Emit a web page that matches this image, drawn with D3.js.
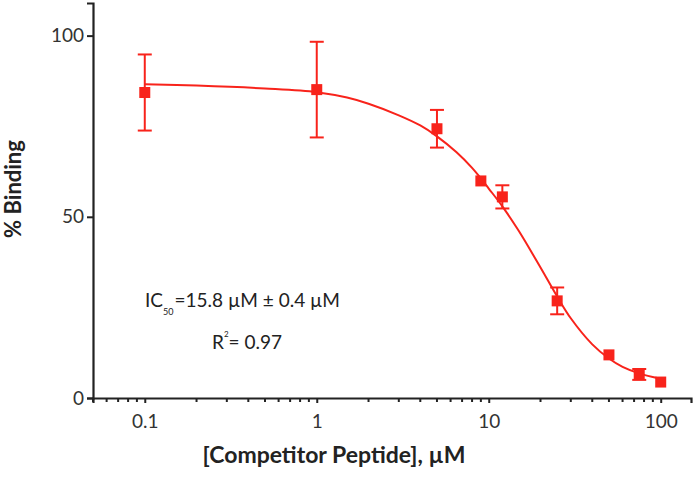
<!DOCTYPE html>
<html>
<head>
<meta charset="utf-8">
<script src="https://cdn.jsdelivr.net/npm/d3@7"></script>
<style>
    body { margin: 0; background: #fff; }
    text { font-family: Lato, 'Open Sans', sans-serif; }
</style>
</head>
<body>
<div id="chart"></div>
<script>
// measured points
const concentrations = [0.1, 1, 5, 9, 12, 25, 50, 75, 100]
const binding = [84.3, 85.1, 74.3, 59.9, 55.5, 26.8, 11.9, 6.5, 4.4]
const errors = [10.5, 13.2, 5.2, 0, 3.2, 3.7, 0, 1.5, 0]

// fitted curve
const fitX = [0.1, 0.2, 0.5, 1, 1.5, 2, 3, 4, 5, 6.5, 8, 9, 10, 12, 15, 20, 25, 30, 40, 50, 60, 75, 100]
const fitY = [86.6, 86.2, 85.4, 84.4, 82.9, 81.2, 78.0, 75.2, 72.2, 67.8, 63.5, 60.6, 57.8, 52.9, 46.0, 36.0, 28.0, 22.0, 14.8, 10.9, 8.6, 6.8, 5.3]

const xTicks = [0.1, 1, 10, 100]
const xMinorTicks = [0.05, 0.06, 0.07, 0.08, 0.09, 0.2, 0.3, 0.4, 0.5, 0.6, 0.7, 0.8, 0.9,
    2, 3, 4, 5, 6, 7, 8, 9, 20, 30, 40, 50, 60, 70, 80, 90]
const yTicks = [0, 50, 100]

const width = 693
const height = 478
const margin = { top: 3, right: 2, bottom: 80, left: 93 }
const red = '#f8231b'
const axisColor = '#222'

const svg = d3.select('#chart')
    .append('svg')
    .attr('width', width)
    .attr('height', height)

const x = d3.scaleLog()
    .domain([0.05, 150])
    .range([margin.left, width - margin.right])

const y = d3.scaleLinear()
    .domain([0, 109])
    .range([height - margin.bottom, margin.top])

// axes
const xAxis = svg.append('g')
    .attr('transform', `translate(0,${y(0)})`)
    .call(d3.axisBottom(x).tickValues(xTicks).tickFormat(d3.format('')).tickSize(5).tickPadding(12))
xAxis.selectAll('.minor')
    .data(xMinorTicks)
    .join('line')
    .attr('class', 'minor')
    .attr('x1', d => x(d))
    .attr('x2', d => x(d))
    .attr('y1', 0)
    .attr('y2', 4)

svg.append('g')
    .attr('transform', `translate(${x(0.05)},0)`)
    .call(d3.axisLeft(y).tickValues(yTicks).tickSize(6).tickPadding(3))

svg.selectAll('.domain, .tick line, .minor')
    .attr('stroke', axisColor)
    .attr('stroke-width', 2)
svg.selectAll('.domain').attr('stroke-width', 2.2)
svg.selectAll('.tick text')
    .attr('fill', '#333')
    .style('font-size', '19px')

// axis titles
svg.append('text')
    .attr('x', 334)
    .attr('y', 463)
    .attr('text-anchor', 'middle')
    .attr('font-weight', 'bold')
    .attr('fill', '#222')
    .style('font-size', '23px')
    .text('[Competitor Peptide], µM')

svg.append('text')
    .attr('transform', 'translate(21,189) rotate(-90)')
    .attr('text-anchor', 'middle')
    .attr('font-weight', 'bold')
    .attr('fill', '#222')
    .style('font-size', '22px')
    .text('% Binding')

// fitted line
const line = d3.line()
    .x((d, i) => x(fitX[i]))
    .y(d => y(d))
    .curve(d3.curveCatmullRom.alpha(0.5))

svg.append('path')
    .attr('d', line(fitY))
    .attr('fill', 'none')
    .attr('stroke', red)
    .attr('stroke-width', 2)

// error bars (only where they stick out of the marker)
const withErr = concentrations.map((c, i) => i).filter(i => errors[i] > 0)
const bars = svg.append('g')
    .attr('stroke', red)
    .attr('stroke-width', 2)
    .selectAll('g')
    .data(withErr)
    .join('g')
bars.append('line')
    .attr('x1', i => x(concentrations[i]))
    .attr('x2', i => x(concentrations[i]))
    .attr('y1', i => y(binding[i] + errors[i]))
    .attr('y2', i => y(binding[i] - errors[i]))
bars.append('line')
    .attr('x1', i => x(concentrations[i]) - 7)
    .attr('x2', i => x(concentrations[i]) + 7)
    .attr('y1', i => y(binding[i] + errors[i]))
    .attr('y2', i => y(binding[i] + errors[i]))
bars.append('line')
    .attr('x1', i => x(concentrations[i]) - 7)
    .attr('x2', i => x(concentrations[i]) + 7)
    .attr('y1', i => y(binding[i] - errors[i]))
    .attr('y2', i => y(binding[i] - errors[i]))

// markers
svg.append('g')
    .selectAll('rect')
    .data(concentrations)
    .join('rect')
    .attr('x', d => x(d) - 5.5)
    .attr('y', (d, i) => y(binding[i]) - 5.5)
    .attr('width', 11)
    .attr('height', 11)
    .attr('fill', red)

// annotation
const note = svg.append('text')
    .attr('x', 145)
    .attr('y', 307)
    .attr('fill', '#222')
    .style('font-size', '19px')
note.append('tspan').text('IC')
note.append('tspan').attr('dy', 8).style('font-size', '9px').text('50')
note.append('tspan').attr('dy', -8).attr('dx', 1).text('=15.8 µM ± 0.4 µM')

const r2 = svg.append('text')
    .attr('x', 212)
    .attr('y', 349)
    .attr('fill', '#222')
    .style('font-size', '19px')
r2.append('tspan').text('R')
r2.append('tspan').attr('dy', -12).style('font-size', '8px').text('2')
r2.append('tspan').attr('dy', 12).text('= 0.97')
</script>
</body>
</html>
